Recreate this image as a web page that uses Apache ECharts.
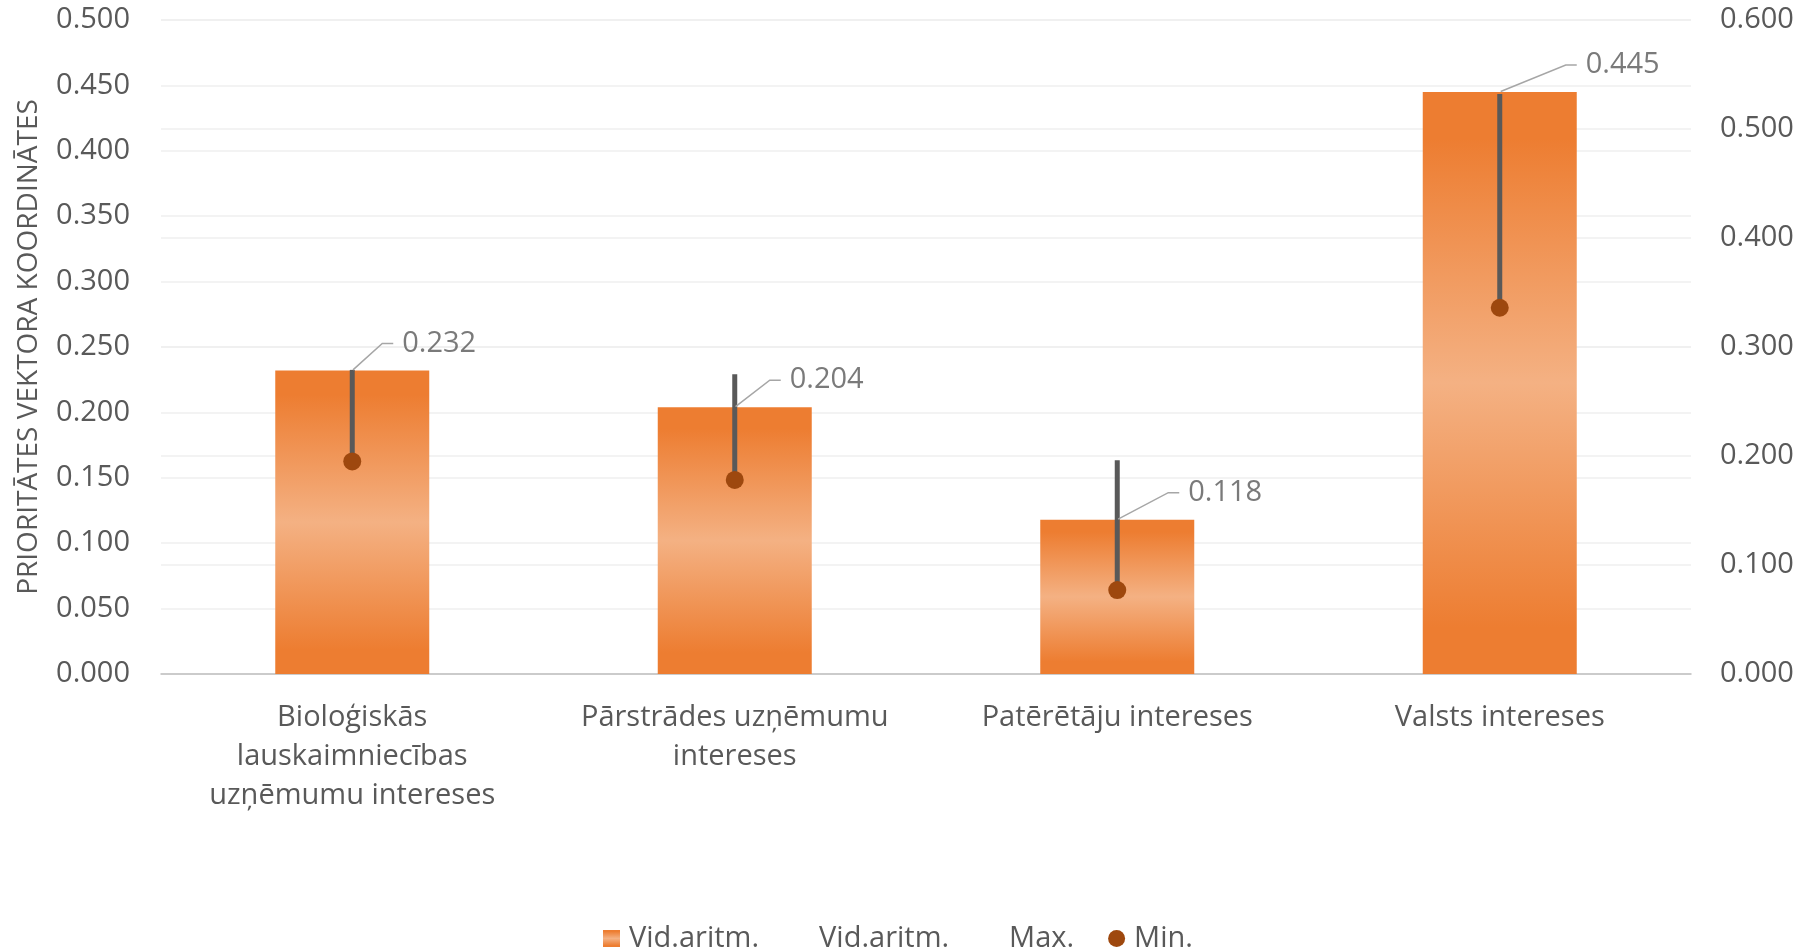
<!DOCTYPE html>
<html>
<head>
<meta charset="utf-8">
<script src="https://cdn.jsdelivr.net/npm/echarts@6/dist/echarts.min.js"></script>
<style>
html,body{margin:0;padding:0;background:#fff;}
#chart{width:1807px;height:951px;}
</style>
</head>
<body>
<div id="chart"></div>
<script>
// ---- data ----
const categories = [
  'Bioloģiskās\nlauskaimniecības\nuzņēmumu intereses',
  'Pārstrādes uzņēmumu\nintereses',
  'Patērētāju intereses',
  'Valsts intereses'
];
const avgValues = [0.232, 0.204, 0.118, 0.445];   // Vid.aritm. (left axis)
const maxValues = [0.279, 0.275, 0.196, 0.532];   // Max. (right axis)
const minValues = [0.195, 0.178, 0.077, 0.336];   // Min. (right axis)
const leftTicks = { min: 0, max: 0.5, interval: 0.05 };
const rightTicks = { min: 0, max: 0.6, interval: 0.1 };
const legendNames = ['Vid.aritm.', 'Vid.aritm. ', 'Max.', 'Min.'];

// ---- layout helpers (not data) ----
const labelDx = [40, 45, 61, 76];
const FONT = '"Open Sans", sans-serif';
const TXT = '#595959';

const chart = echarts.init(document.getElementById('chart'), null, { renderer: 'canvas' });

const barGradient = new echarts.graphic.LinearGradient(0, 0, 0, 1, [
  { offset: 0, color: '#ED7D31' },
  { offset: 0.08, color: '#ED7D31' },
  { offset: 0.5, color: '#F4B183' },
  { offset: 0.92, color: '#ED7D31' },
  { offset: 1, color: '#ED7D31' }
]);

const option = {
  backgroundColor: '#ffffff',
  textStyle: { fontFamily: FONT },
  animation: false,
  grid: { left: 161, right: 116, top: 20, bottom: 277, containLabel: false },
  legend: {
    left: 603,
    top: 924,
    padding: 0,
    itemWidth: 17,
    itemHeight: 17,
    itemGap: 34,
    textStyle: { fontSize: 29, color: TXT, fontFamily: FONT, padding: [0, 0, 0, 4] },
    formatter: function (n) { return n.trim(); },
    data: [
      { name: legendNames[0], icon: 'rect' },
      { name: legendNames[1], icon: 'rect', itemStyle: { opacity: 0 } },
      { name: legendNames[2], icon: 'rect', itemStyle: { opacity: 0 } },
      { name: legendNames[3], icon: 'circle' }
    ]
  },
  xAxis: {
    type: 'category',
    data: categories,
    axisLine: { show: true, lineStyle: { color: '#BFBFBF', width: 1.5 } },
    axisTick: { show: false },
    axisLabel: {
      interval: 0,
      fontSize: 29,
      lineHeight: 39,
      margin: 24,
      color: TXT,
      fontFamily: FONT
    }
  },
  yAxis: [
    {
      type: 'value',
      min: leftTicks.min, max: leftTicks.max, interval: leftTicks.interval,
      name: 'PRIORITĀTES VEKTORA KOORDINĀTES',
      nameLocation: 'middle',
      nameRotate: 90,
      nameGap: 118,
      nameTextStyle: { fontSize: 28, color: TXT, fontFamily: FONT },
      axisLine: { show: false },
      axisTick: { show: false },
      splitLine: { show: true, lineStyle: { color: '#EFEFEF', width: 1.5 } },
      axisLabel: {
        fontSize: 29, color: TXT, margin: 31, fontFamily: FONT,
        formatter: function (v) { return v.toFixed(3); }
      }
    },
    {
      type: 'value',
      min: rightTicks.min, max: rightTicks.max, interval: rightTicks.interval,
      axisLine: { show: false },
      axisTick: { show: false },
      splitLine: { show: true, lineStyle: { color: '#EFEFEF', width: 1.5 } },
      axisLabel: {
        fontSize: 29, color: TXT, margin: 29, fontFamily: FONT,
        formatter: function (v) { return v.toFixed(3); }
      }
    }
  ],
  series: [
    {
      name: legendNames[0],
      type: 'bar',
      yAxisIndex: 0,
      barWidth: 154,
      data: avgValues,
      itemStyle: { color: barGradient },
      z: 2
    },
    {
      name: 'hilo',
      type: 'custom',
      yAxisIndex: 1,
      z: 3,
      data: categories.map(function (c, i) { return [i, maxValues[i], minValues[i]]; }),
      encode: { x: 0, y: [1, 2] },
      renderItem: function (params, api) {
        const p1 = api.coord([api.value(0), api.value(1)]);
        const p2 = api.coord([api.value(0), api.value(2)]);
        return {
          type: 'line',
          shape: { x1: p1[0], y1: p1[1], x2: p2[0], y2: p2[1] },
          style: { stroke: '#595959', lineWidth: 5, lineCap: 'butt' }
        };
      }
    },
    {
      name: legendNames[2],
      type: 'scatter',
      yAxisIndex: 1,
      symbolSize: 0,
      itemStyle: { color: 'rgba(0,0,0,0)' },
      data: maxValues,
      z: 3
    },
    {
      name: legendNames[3],
      type: 'scatter',
      yAxisIndex: 1,
      symbol: 'circle',
      symbolSize: 18,
      itemStyle: { color: '#9E480E', opacity: 1 },
      data: minValues,
      z: 4
    },
    {
      name: legendNames[1],
      type: 'scatter',
      yAxisIndex: 0,
      symbolSize: 2,
      itemStyle: { color: 'rgba(0,0,0,0)' },
      data: avgValues,
      z: 5,
      label: {
        show: true,
        position: 'right',
        distance: 0,
        padding: [0, 2, 0, 9],
        backgroundColor: 'rgba(255,255,255,0)',
        fontSize: 29,
        color: TXT,
        fontFamily: FONT,
        formatter: function (p) { return p.value.toFixed(3); }
      },
      labelLayout: function (params) {
        return { dx: labelDx[params.dataIndex], dy: -27 };
      },
      labelLine: {
        show: true,
        length2: 11,
        lineStyle: { color: '#A6A6A6', width: 1.5 }
      }
    }
  ]
};

chart.setOption(option);
</script>
</body>
</html>
